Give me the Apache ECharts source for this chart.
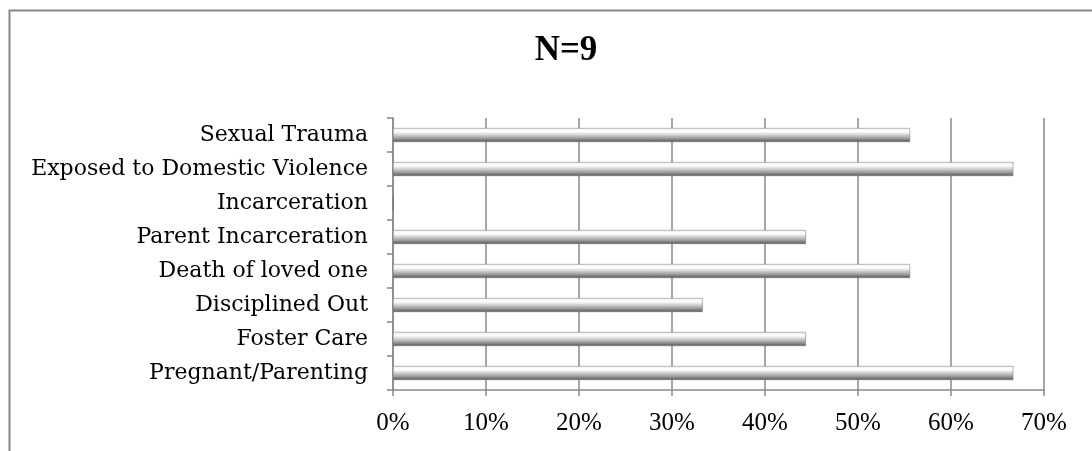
<!DOCTYPE html>
<html>
<head>
<meta charset="utf-8">
<script src="https://cdn.jsdelivr.net/npm/echarts@6/dist/echarts.min.js"></script>
<style>
  html, body { margin: 0; padding: 0; background: #fff; }
  #chart { width: 1092px; height: 451px; }
</style>
</head>
<body>
<div id="chart"></div>
<script>
// Categories listed bottom to top, as the category axis draws them
const categories = [
  'Pregnant/Parenting',
  'Foster Care',
  'Disciplined Out',
  'Death of loved one',
  'Parent Incarceration',
  'Incarceration',
  'Exposed to Domestic Violence',
  'Sexual Trauma'
];
// Share of the 9 respondents, in percent
const percentValues = [66.7, 44.4, 33.3, 55.6, 44.4, 0, 66.7, 55.6];
const axisTicks = [0, 10, 20, 30, 40, 50, 60, 70];
const titleText = 'N=9';

const chart = echarts.init(document.getElementById('chart'));

const barFill = new echarts.graphic.LinearGradient(0, 0, 0, 1, [
  { offset: 0, color: '#eeeeee' },
  { offset: 0.25, color: '#ffffff' },
  { offset: 0.42, color: '#e0e0e0' },
  { offset: 0.75, color: '#9a9a9a' },
  { offset: 1, color: '#555555' }
]);

chart.setOption({
  backgroundColor: '#ffffff',
  title: {
    text: titleText,
    left: 561,
    top: 28,
    textAlign: 'center',
    textStyle: {
      fontFamily: 'Liberation Serif',
      fontWeight: 'bold',
      fontSize: 35,
      color: '#000'
    }
  },
  graphic: [{
    type: 'rect',
    shape: { x: 9.5, y: 10.5, width: 1100, height: 460 },
    style: { fill: 'none', stroke: '#888888', lineWidth: 2 },
    silent: true
  }],
  grid: { left: 393, right: 48, top: 118, bottom: 61 },
  xAxis: {
    type: 'value',
    min: axisTicks[0],
    max: axisTicks[axisTicks.length - 1],
    interval: 10,
    axisLine: { show: true, lineStyle: { color: '#888888', width: 1.5 } },
    axisTick: { show: true, length: 6, lineStyle: { color: '#888888', width: 1.5 } },
    splitLine: { show: true, lineStyle: { color: '#8a8a8a', width: 1.5 } },
    axisLabel: {
      formatter: v => v + '%',
      fontFamily: 'Liberation Serif',
      fontSize: 25,
      color: '#000',
      margin: 21
    }
  },
  yAxis: {
    type: 'category',
    data: categories,
    axisLine: { show: true, lineStyle: { color: '#888888', width: 1.5 } },
    axisTick: { show: true, length: 6, inside: false, lineStyle: { color: '#888888', width: 1.5 } },
    axisLabel: {
      fontFamily: 'DejaVu Serif',
      fontSize: 22,
      color: '#000',
      margin: 25
    }
  },
  series: [{
    type: 'bar',
    data: percentValues,
    barWidth: 14,
    itemStyle: {
      color: barFill,
      borderColor: '#707070',
      borderWidth: 0.5
    },
    silent: true,
    animation: false
  }]
});
</script>
</body>
</html>
